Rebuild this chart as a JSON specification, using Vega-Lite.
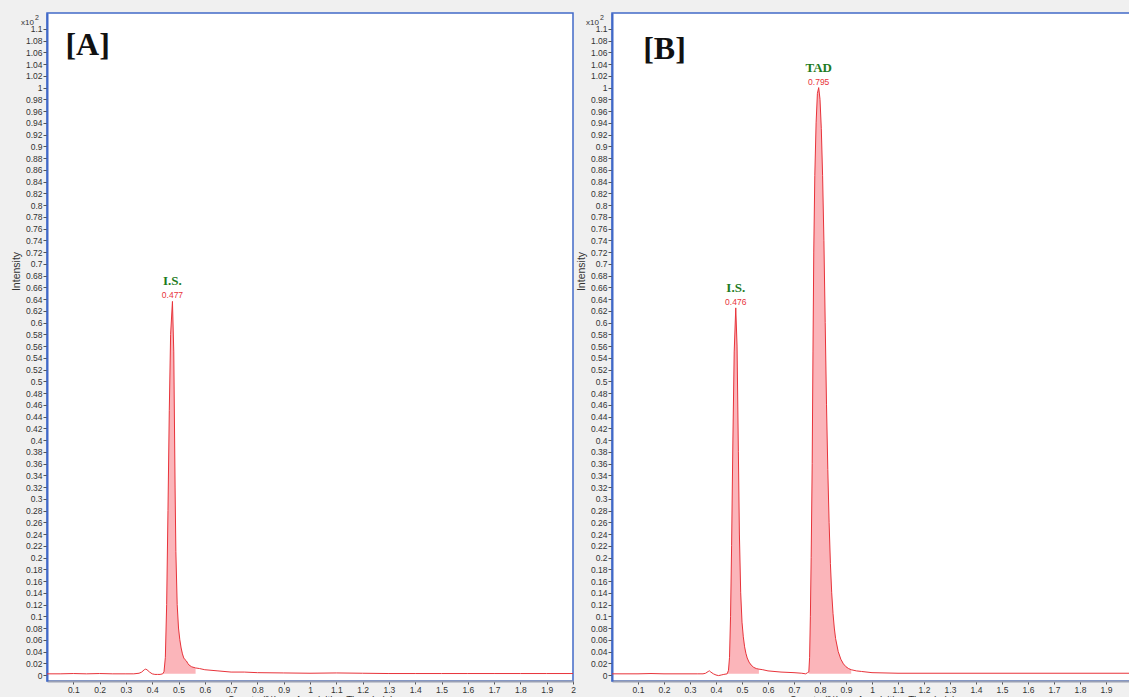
{
"$schema": "https://vega.github.io/schema/vega-lite/v6.json",
"background": "#f0f0f0",
"padding": {"left": 10, "top": 12, "right": 0, "bottom": 0},
"spacing": -2,
"config": {
  "view": {"fill": "white", "stroke": "#4169c8", "strokeWidth": 1.5},
  "axis": {"grid": false, "labelFont": "Liberation Sans", "labelFontSize": 8.5, "labelColor": "#333", "tickColor": "#555", "titleFont": "Liberation Sans", "titleFontWeight": "normal", "titleColor": "#333", "labelOverlap": false}
},
"datasets": {
  "trace": [
    {"panel":"A","t":0,"v":0.002,"pk":""},{"panel":"A","t":0.05,"v":0.002,"pk":""},{"panel":"A","t":0.1,"v":0.0025,"pk":""},{"panel":"A","t":0.15,"v":0.002,"pk":""},{"panel":"A","t":0.2,"v":0.0025,"pk":""},{"panel":"A","t":0.25,"v":0.002,"pk":""},{"panel":"A","t":0.3,"v":0.002,"pk":""},{"panel":"A","t":0.33,"v":0.002,"pk":""},{"panel":"A","t":0.35,"v":0.003,"pk":""},{"panel":"A","t":0.36,"v":0.005,"pk":""},{"panel":"A","t":0.37,"v":0.009,"pk":""},{"panel":"A","t":0.375,"v":0.01,"pk":""},{"panel":"A","t":0.38,"v":0.009,"pk":""},{"panel":"A","t":0.39,"v":0.005,"pk":""},{"panel":"A","t":0.4,"v":0.002,"pk":""},{"panel":"A","t":0.41,"v":0.001,"pk":""},{"panel":"A","t":0.42,"v":0.001,"pk":""},{"panel":"A","t":0.43,"v":0.001,"pk":""},
    {"panel":"A","t":0.44,"v":0.002,"pk":"IS"},{"panel":"A","t":0.445,"v":0.006,"pk":"IS"},{"panel":"A","t":0.45,"v":0.03,"pk":"IS"},{"panel":"A","t":0.455,"v":0.12,"pk":"IS"},{"panel":"A","t":0.46,"v":0.28,"pk":"IS"},{"panel":"A","t":0.465,"v":0.45,"pk":"IS"},{"panel":"A","t":0.47,"v":0.58,"pk":"IS"},{"panel":"A","t":0.477,"v":0.636,"pk":"IS"},{"panel":"A","t":0.482,"v":0.55,"pk":"IS"},{"panel":"A","t":0.487,"v":0.32,"pk":"IS"},{"panel":"A","t":0.49,"v":0.21,"pk":"IS"},{"panel":"A","t":0.495,"v":0.12,"pk":"IS"},{"panel":"A","t":0.5,"v":0.08,"pk":"IS"},{"panel":"A","t":0.505,"v":0.06,"pk":"IS"},{"panel":"A","t":0.51,"v":0.046,"pk":"IS"},{"panel":"A","t":0.515,"v":0.036,"pk":"IS"},{"panel":"A","t":0.52,"v":0.029,"pk":"IS"},{"panel":"A","t":0.525,"v":0.026,"pk":"IS"},{"panel":"A","t":0.53,"v":0.024,"pk":"IS"},{"panel":"A","t":0.535,"v":0.02,"pk":"IS"},{"panel":"A","t":0.54,"v":0.017,"pk":"IS"},{"panel":"A","t":0.55,"v":0.014,"pk":"IS"},{"panel":"A","t":0.565,"v":0.012,"pk":"IS"},
    {"panel":"A","t":0.58,"v":0.011,"pk":""},{"panel":"A","t":0.6,"v":0.009,"pk":""},{"panel":"A","t":0.65,"v":0.007,"pk":""},{"panel":"A","t":0.7,"v":0.005,"pk":""},{"panel":"A","t":0.75,"v":0.005,"pk":""},{"panel":"A","t":0.8,"v":0.004,"pk":""},{"panel":"A","t":0.9,"v":0.0035,"pk":""},{"panel":"A","t":1.0,"v":0.003,"pk":""},{"panel":"A","t":1.1,"v":0.0035,"pk":""},{"panel":"A","t":1.2,"v":0.003,"pk":""},{"panel":"A","t":1.3,"v":0.0025,"pk":""},{"panel":"A","t":1.4,"v":0.0025,"pk":""},{"panel":"A","t":1.5,"v":0.0025,"pk":""},{"panel":"A","t":1.6,"v":0.0025,"pk":""},{"panel":"A","t":1.7,"v":0.0025,"pk":""},{"panel":"A","t":1.8,"v":0.0025,"pk":""},{"panel":"A","t":1.9,"v":0.0025,"pk":""},{"panel":"A","t":2.0,"v":0.0025,"pk":""},
    {"panel":"B","t":0,"v":0.002,"pk":""},{"panel":"B","t":0.05,"v":0.002,"pk":""},{"panel":"B","t":0.1,"v":0.002,"pk":""},{"panel":"B","t":0.15,"v":0.0025,"pk":""},{"panel":"B","t":0.2,"v":0.002,"pk":""},{"panel":"B","t":0.25,"v":0.002,"pk":""},{"panel":"B","t":0.3,"v":0.002,"pk":""},{"panel":"B","t":0.33,"v":0.002,"pk":""},{"panel":"B","t":0.35,"v":0.002,"pk":""},{"panel":"B","t":0.36,"v":0.003,"pk":""},{"panel":"B","t":0.37,"v":0.006,"pk":""},{"panel":"B","t":0.375,"v":0.007,"pk":""},{"panel":"B","t":0.38,"v":0.005,"pk":""},{"panel":"B","t":0.39,"v":0.002,"pk":""},{"panel":"B","t":0.4,"v":0.0,"pk":""},{"panel":"B","t":0.41,"v":-0.001,"pk":""},{"panel":"B","t":0.42,"v":0.0,"pk":""},{"panel":"B","t":0.43,"v":0.001,"pk":""},
    {"panel":"B","t":0.443,"v":0.002,"pk":"IS"},{"panel":"B","t":0.448,"v":0.008,"pk":"IS"},{"panel":"B","t":0.452,"v":0.03,"pk":"IS"},{"panel":"B","t":0.456,"v":0.1,"pk":"IS"},{"panel":"B","t":0.46,"v":0.22,"pk":"IS"},{"panel":"B","t":0.465,"v":0.4,"pk":"IS"},{"panel":"B","t":0.47,"v":0.55,"pk":"IS"},{"panel":"B","t":0.476,"v":0.625,"pk":"IS"},{"panel":"B","t":0.481,"v":0.56,"pk":"IS"},{"panel":"B","t":0.486,"v":0.38,"pk":"IS"},{"panel":"B","t":0.49,"v":0.24,"pk":"IS"},{"panel":"B","t":0.495,"v":0.14,"pk":"IS"},{"panel":"B","t":0.5,"v":0.09,"pk":"IS"},{"panel":"B","t":0.505,"v":0.065,"pk":"IS"},{"panel":"B","t":0.51,"v":0.048,"pk":"IS"},{"panel":"B","t":0.515,"v":0.037,"pk":"IS"},{"panel":"B","t":0.52,"v":0.029,"pk":"IS"},{"panel":"B","t":0.527,"v":0.022,"pk":"IS"},{"panel":"B","t":0.535,"v":0.017,"pk":"IS"},{"panel":"B","t":0.545,"v":0.013,"pk":"IS"},{"panel":"B","t":0.555,"v":0.011,"pk":"IS"},{"panel":"B","t":0.565,"v":0.01,"pk":"IS"},
    {"panel":"B","t":0.58,"v":0.009,"pk":""},{"panel":"B","t":0.6,"v":0.007,"pk":""},{"panel":"B","t":0.65,"v":0.005,"pk":""},{"panel":"B","t":0.7,"v":0.004,"pk":""},{"panel":"B","t":0.73,"v":0.003,"pk":""},{"panel":"B","t":0.745,"v":0.002,"pk":""},{"panel":"B","t":0.752,"v":0.004,"pk":""},
    {"panel":"B","t":0.757,"v":0.005,"pk":"TAD"},{"panel":"B","t":0.76,"v":0.03,"pk":"TAD"},{"panel":"B","t":0.763,"v":0.1,"pk":"TAD"},{"panel":"B","t":0.766,"v":0.2,"pk":"TAD"},{"panel":"B","t":0.77,"v":0.36,"pk":"TAD"},{"panel":"B","t":0.773,"v":0.55,"pk":"TAD"},{"panel":"B","t":0.776,"v":0.72,"pk":"TAD"},{"panel":"B","t":0.78,"v":0.85,"pk":"TAD"},{"panel":"B","t":0.785,"v":0.94,"pk":"TAD"},{"panel":"B","t":0.79,"v":0.99,"pk":"TAD"},{"panel":"B","t":0.795,"v":1.0,"pk":"TAD"},{"panel":"B","t":0.8,"v":0.98,"pk":"TAD"},{"panel":"B","t":0.805,"v":0.93,"pk":"TAD"},{"panel":"B","t":0.81,"v":0.85,"pk":"TAD"},{"panel":"B","t":0.815,"v":0.74,"pk":"TAD"},{"panel":"B","t":0.82,"v":0.6,"pk":"TAD"},{"panel":"B","t":0.825,"v":0.46,"pk":"TAD"},{"panel":"B","t":0.83,"v":0.35,"pk":"TAD"},{"panel":"B","t":0.835,"v":0.26,"pk":"TAD"},{"panel":"B","t":0.84,"v":0.19,"pk":"TAD"},{"panel":"B","t":0.845,"v":0.14,"pk":"TAD"},{"panel":"B","t":0.85,"v":0.105,"pk":"TAD"},{"panel":"B","t":0.855,"v":0.08,"pk":"TAD"},{"panel":"B","t":0.86,"v":0.062,"pk":"TAD"},{"panel":"B","t":0.87,"v":0.04,"pk":"TAD"},{"panel":"B","t":0.88,"v":0.027,"pk":"TAD"},{"panel":"B","t":0.89,"v":0.019,"pk":"TAD"},{"panel":"B","t":0.9,"v":0.014,"pk":"TAD"},{"panel":"B","t":0.91,"v":0.011,"pk":"TAD"},{"panel":"B","t":0.92,"v":0.009,"pk":"TAD"},
    {"panel":"B","t":0.94,"v":0.007,"pk":""},{"panel":"B","t":0.96,"v":0.006,"pk":""},{"panel":"B","t":1.0,"v":0.004,"pk":""},{"panel":"B","t":1.1,"v":0.003,"pk":""},{"panel":"B","t":1.2,"v":0.003,"pk":""},{"panel":"B","t":1.3,"v":0.003,"pk":""},{"panel":"B","t":1.4,"v":0.003,"pk":""},{"panel":"B","t":1.5,"v":0.003,"pk":""},{"panel":"B","t":1.6,"v":0.003,"pk":""},{"panel":"B","t":1.7,"v":0.003,"pk":""},{"panel":"B","t":1.8,"v":0.003,"pk":""},{"panel":"B","t":1.9,"v":0.003,"pk":""},{"panel":"B","t":2.0,"v":0.003,"pk":""}
  ],
  "peaks": [
    {"panel":"A","t":0.477,"v":0.636,"name":"I.S."},
    {"panel":"B","t":0.476,"v":0.625,"name":"I.S."},
    {"panel":"B","t":0.795,"v":1.0,"name":"TAD"}
  ],
  "tags": [
    {"panel":"A","tag":"[A]","unit":"x10","exp":"2"},
    {"panel":"B","tag":"[B]","unit":"x10","exp":"2"}
  ]
},
"hconcat": [
  {
    "width": 526, "height": 668,
    "layer": [
      {
        "encoding": {
          "x": {"field": "t", "type": "quantitative", "scale": {"domain": [0, 2], "nice": false, "zero": false},
            "axis": {"title": "Counts (%) vs. Acquisition Time (min)", "values": [0.1,0.2,0.3,0.4,0.5,0.6,0.7,0.8,0.9,1,1.1,1.2,1.3,1.4,1.5,1.6,1.7,1.8,1.9,2], "format": ".1~f", "tickSize": 3, "labelPadding": 1, "domainColor": "#9aa0b4", "domainWidth": 2, "titleFontSize": 10, "titlePadding": 2, "labelFlush": false, "labelOverlap": false}},
          "y": {"field": "v", "type": "quantitative", "scale": {"domain": [-0.0102, 1.127], "nice": false, "zero": false},
            "axis": {"title": "Intensity", "values": [0,0.02,0.04,0.06,0.08,0.1,0.12,0.14,0.16,0.18,0.2,0.22,0.24,0.26,0.28,0.3,0.32,0.34,0.36,0.38,0.4,0.42,0.44,0.46,0.48,0.5,0.52,0.54,0.56,0.58,0.6,0.62,0.64,0.66,0.68,0.7,0.72,0.74,0.76,0.78,0.8,0.82,0.84,0.86,0.88,0.9,0.92,0.94,0.96,0.98,1,1.02,1.04,1.06,1.08,1.1], "format": ".2~f", "tickSize": 4, "labelPadding": 1, "domainColor": "#4169c8", "domainWidth": 2, "titleFontSize": 10.5, "titlePadding": 4, "titleY": 258, "labelOverlap": false}}
        },
        "layer": [
          {"data": {"name": "trace"}, "transform": [{"filter": "datum.panel === 'A' && datum.pk !== ''"}],
           "mark": {"type": "area", "color": "#fbb5ba", "opacity": 1, "clip": true},
           "encoding": {"y2": {"datum": 0.002}, "detail": {"field": "pk"}}},
          {"data": {"name": "trace"}, "transform": [{"filter": "datum.panel === 'A'"}],
           "mark": {"type": "line", "color": "#e8333a", "strokeWidth": 1, "clip": true}},
          {"data": {"name": "peaks"}, "transform": [{"filter": "datum.panel === 'A'"}],
           "mark": {"type": "text", "font": "Liberation Sans", "fontSize": 8.5, "color": "#e8333a", "baseline": "alphabetic", "dy": -3},
           "encoding": {"text": {"field": "t", "format": ".3f"}}},
          {"data": {"name": "peaks"}, "transform": [{"filter": "datum.panel === 'A'"}],
           "mark": {"type": "text", "font": "Liberation Serif", "fontWeight": "bold", "fontSize": 13, "color": "#1e7b1e", "baseline": "alphabetic", "dy": -16},
           "encoding": {"text": {"field": "name"}}}
        ]
      },
      {
        "data": {"name": "tags"},
        "transform": [{"filter": "datum.panel === 'A'"}],
        "encoding": {
          "x": {"datum": 0, "type": "quantitative", "scale": {"domain": [0, 2], "nice": false, "zero": false},
            "axis": {"title": "Counts (%) vs. Acquisition Time (min)", "values": [0.1,0.2,0.3,0.4,0.5,0.6,0.7,0.8,0.9,1,1.1,1.2,1.3,1.4,1.5,1.6,1.7,1.8,1.9,2], "format": ".1~f", "tickSize": 3, "labelPadding": 1, "domainColor": "#9aa0b4", "domainWidth": 2, "titleFontSize": 10, "titlePadding": 2, "labelFlush": false, "labelOverlap": false}},
          "y": {"datum": 1.1, "type": "quantitative", "scale": {"domain": [-0.0102, 1.127], "nice": false, "zero": false},
            "axis": {"title": "Intensity", "values": [0,0.02,0.04,0.06,0.08,0.1,0.12,0.14,0.16,0.18,0.2,0.22,0.24,0.26,0.28,0.3,0.32,0.34,0.36,0.38,0.4,0.42,0.44,0.46,0.48,0.5,0.52,0.54,0.56,0.58,0.6,0.62,0.64,0.66,0.68,0.7,0.72,0.74,0.76,0.78,0.8,0.82,0.84,0.86,0.88,0.9,0.92,0.94,0.96,0.98,1,1.02,1.04,1.06,1.08,1.1], "format": ".2~f", "tickSize": 4, "labelPadding": 1, "domainColor": "#4169c8", "domainWidth": 2, "titleFontSize": 10.5, "titlePadding": 4, "titleY": 258, "labelOverlap": false}}
        },
        "layer": [
          {"mark": {"type": "text", "font": "Liberation Serif", "fontWeight": "bold", "fontSize": 32, "color": "#111", "align": "left", "baseline": "alphabetic"},
           "encoding": {"x": {"datum": 0.07}, "y": {"datum": 1.056}, "text": {"field": "tag"}}},
          {"mark": {"type": "text", "font": "Liberation Sans", "fontSize": 8, "color": "#333", "align": "right", "baseline": "alphabetic", "dx": -13, "dy": -4},
           "encoding": {"text": {"field": "unit"}}},
          {"mark": {"type": "text", "font": "Liberation Sans", "fontSize": 7, "color": "#333", "align": "left", "baseline": "alphabetic", "dx": -12, "dy": -9},
           "encoding": {"text": {"field": "exp"}}}
        ]
      }
    ]
  },
  {
    "width": 520, "height": 668,
    "layer": [
      {
        "encoding": {
          "x": {"field": "t", "type": "quantitative", "scale": {"domain": [0, 2], "nice": false, "zero": false},
            "axis": {"title": "Counts (%) vs. Acquisition Time (min)", "values": [0.1,0.2,0.3,0.4,0.5,0.6,0.7,0.8,0.9,1,1.1,1.2,1.3,1.4,1.5,1.6,1.7,1.8,1.9], "format": ".1~f", "tickSize": 3, "labelPadding": 1, "domainColor": "#9aa0b4", "domainWidth": 2, "titleFontSize": 10, "titlePadding": 2, "labelFlush": false, "labelOverlap": false}},
          "y": {"field": "v", "type": "quantitative", "scale": {"domain": [-0.0102, 1.127], "nice": false, "zero": false},
            "axis": {"title": "Intensity", "values": [0,0.02,0.04,0.06,0.08,0.1,0.12,0.14,0.16,0.18,0.2,0.22,0.24,0.26,0.28,0.3,0.32,0.34,0.36,0.38,0.4,0.42,0.44,0.46,0.48,0.5,0.52,0.54,0.56,0.58,0.6,0.62,0.64,0.66,0.68,0.7,0.72,0.74,0.76,0.78,0.8,0.82,0.84,0.86,0.88,0.9,0.92,0.94,0.96,0.98,1,1.02,1.04,1.06,1.08,1.1], "format": ".2~f", "tickSize": 4, "labelPadding": 1, "domainColor": "#4169c8", "domainWidth": 2, "titleFontSize": 10.5, "titlePadding": 4, "titleY": 258, "labelOverlap": false}}
        },
        "layer": [
          {"data": {"name": "trace"}, "transform": [{"filter": "datum.panel === 'B' && datum.pk !== ''"}],
           "mark": {"type": "area", "color": "#fbb5ba", "opacity": 1, "clip": true},
           "encoding": {"y2": {"datum": 0.002}, "detail": {"field": "pk"}}},
          {"data": {"name": "trace"}, "transform": [{"filter": "datum.panel === 'B'"}],
           "mark": {"type": "line", "color": "#e8333a", "strokeWidth": 1, "clip": true}},
          {"data": {"name": "peaks"}, "transform": [{"filter": "datum.panel === 'B'"}],
           "mark": {"type": "text", "font": "Liberation Sans", "fontSize": 8.5, "color": "#e8333a", "baseline": "alphabetic", "dy": -3},
           "encoding": {"text": {"field": "t", "format": ".3f"}}},
          {"data": {"name": "peaks"}, "transform": [{"filter": "datum.panel === 'B'"}],
           "mark": {"type": "text", "font": "Liberation Serif", "fontWeight": "bold", "fontSize": 13, "color": "#1e7b1e", "baseline": "alphabetic", "dy": -16},
           "encoding": {"text": {"field": "name"}}}
        ]
      },
      {
        "data": {"name": "tags"},
        "transform": [{"filter": "datum.panel === 'B'"}],
        "encoding": {
          "x": {"datum": 0, "type": "quantitative", "scale": {"domain": [0, 2], "nice": false, "zero": false},
            "axis": {"title": "Counts (%) vs. Acquisition Time (min)", "values": [0.1,0.2,0.3,0.4,0.5,0.6,0.7,0.8,0.9,1,1.1,1.2,1.3,1.4,1.5,1.6,1.7,1.8,1.9], "format": ".1~f", "tickSize": 3, "labelPadding": 1, "domainColor": "#9aa0b4", "domainWidth": 2, "titleFontSize": 10, "titlePadding": 2, "labelFlush": false, "labelOverlap": false}},
          "y": {"datum": 1.1, "type": "quantitative", "scale": {"domain": [-0.0102, 1.127], "nice": false, "zero": false},
            "axis": {"title": "Intensity", "values": [0,0.02,0.04,0.06,0.08,0.1,0.12,0.14,0.16,0.18,0.2,0.22,0.24,0.26,0.28,0.3,0.32,0.34,0.36,0.38,0.4,0.42,0.44,0.46,0.48,0.5,0.52,0.54,0.56,0.58,0.6,0.62,0.64,0.66,0.68,0.7,0.72,0.74,0.76,0.78,0.8,0.82,0.84,0.86,0.88,0.9,0.92,0.94,0.96,0.98,1,1.02,1.04,1.06,1.08,1.1], "format": ".2~f", "tickSize": 4, "labelPadding": 1, "domainColor": "#4169c8", "domainWidth": 2, "titleFontSize": 10.5, "titlePadding": 4, "titleY": 258, "labelOverlap": false}}
        },
        "layer": [
          {"mark": {"type": "text", "font": "Liberation Serif", "fontWeight": "bold", "fontSize": 32, "color": "#111", "align": "left", "baseline": "alphabetic"},
           "encoding": {"x": {"datum": 0.12}, "y": {"datum": 1.048}, "text": {"field": "tag"}}},
          {"mark": {"type": "text", "font": "Liberation Sans", "fontSize": 8, "color": "#333", "align": "right", "baseline": "alphabetic", "dx": -13, "dy": -4},
           "encoding": {"text": {"field": "unit"}}},
          {"mark": {"type": "text", "font": "Liberation Sans", "fontSize": 7, "color": "#333", "align": "left", "baseline": "alphabetic", "dx": -12, "dy": -9},
           "encoding": {"text": {"field": "exp"}}}
        ]
      }
    ]
  }
]
}
